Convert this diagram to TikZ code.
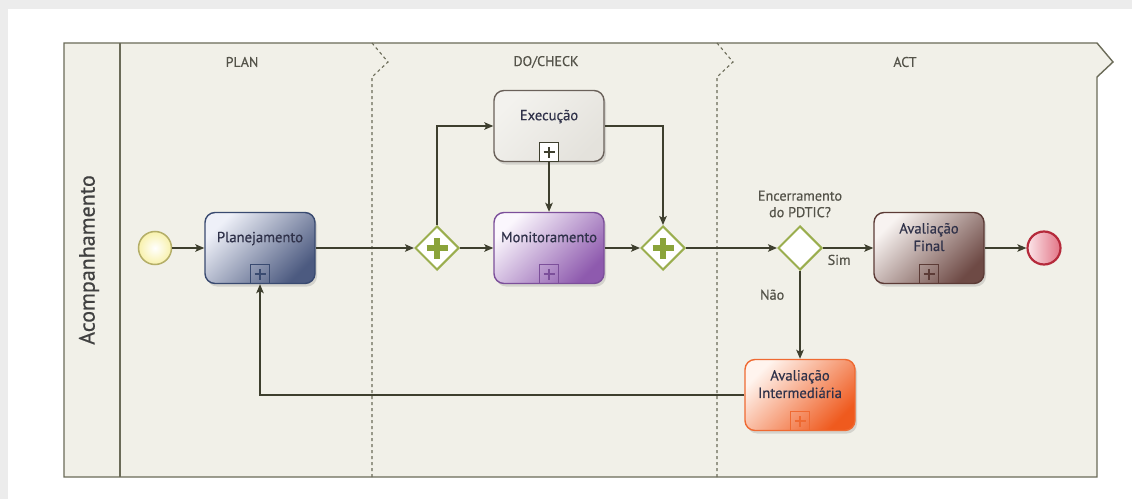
\documentclass[tikz,border=0pt]{standalone}
\usepackage{fontspec}
\setmainfont{PT Sans}[FakeBold=0.5]
\usetikzlibrary{shapes.geometric, arrows.meta, positioning, shadows}

\definecolor{pageGray}{HTML}{ECECEC}
\definecolor{poolFill}{HTML}{F1F0E8}
\definecolor{poolLine}{HTML}{6B6B58}
\definecolor{laneText}{HTML}{55544A}
\definecolor{flowLine}{HTML}{3E3F2E}
\definecolor{taskText}{HTML}{30324A}
\definecolor{gwLine}{HTML}{9AAE4E}
\definecolor{gwPlus}{HTML}{8AA33A}
\definecolor{startLine}{HTML}{B4AE68}
\definecolor{startFill}{HTML}{F8F1AC}
\definecolor{endLine}{HTML}{B52A3B}
\definecolor{endLight}{HTML}{FBE4E8}
\definecolor{endDark}{HTML}{E27485}
\definecolor{planLine}{HTML}{394A70}
\definecolor{planLight}{HTML}{EEF0F8}
\definecolor{planDark}{HTML}{4C5A80}
\definecolor{exeLine}{HTML}{6A615A}
\definecolor{exeLight}{HTML}{F3F2EE}
\definecolor{exeDark}{HTML}{E4E2DC}
\definecolor{monLine}{HTML}{7C4F9A}
\definecolor{monLight}{HTML}{FBF7FD}
\definecolor{monDark}{HTML}{8E5AAE}
\definecolor{finLine}{HTML}{5C3B36}
\definecolor{finLight}{HTML}{F8F3F1}
\definecolor{finDark}{HTML}{6E4A45}
\definecolor{intLine}{HTML}{EF6A32}
\definecolor{intLight}{HTML}{FFF4EE}
\definecolor{intDark}{HTML}{EF5A1E}

\begin{document}
\begin{tikzpicture}[>={Stealth[length=9pt,width=7.5pt,inset=2pt]},x=1pt,y=1pt,semithick]
		\tikzstyle{pool}=[draw=poolLine,line width=1.4pt]
		\tikzstyle{lanesep}=[draw=poolLine,line width=1.1pt,dash pattern=on 3pt off 3pt]
		\tikzstyle{lanehead}=[text=laneText,font=\fontsize{14}{16}\selectfont]
		\tikzstyle{flow}=[->,draw=flowLine,line width=1.5pt]
		\tikzstyle{flowtext}=[text=laneText,font=\fontsize{14.2}{16.5}\selectfont,align=center,inner sep=1pt]
		\tikzstyle{task}=[rectangle,rounded corners=10pt,minimum width=110pt,minimum height=71pt,line width=1.4pt,align=center,text depth=22pt,text=taskText,font=\fontsize{14.6}{17.5}\selectfont,drop shadow={shadow xshift=2pt,shadow yshift=-3pt,opacity=0.25}]
		\tikzstyle{plantask}=[task,draw=planLine,top color=planLight,bottom color=planDark,shading angle=45]
		\tikzstyle{exetask}=[task,draw=exeLine,top color=exeLight,bottom color=exeDark,shading angle=45]
		\tikzstyle{montask}=[task,draw=monLine,top color=monLight,bottom color=monDark,shading angle=45]
		\tikzstyle{fintask}=[task,draw=finLine,top color=finLight,bottom color=finDark,shading angle=45]
		\tikzstyle{inttask}=[task,draw=intLine,top color=intLight,bottom color=intDark,shading angle=45]
		\tikzstyle{marker}=[rectangle,anchor=south,minimum size=19pt,inner sep=0pt,line width=1.2pt,draw,
			path picture={\draw[line width=2.3pt] ([xshift=-5.5pt]path picture bounding box.center) -- ([xshift=5.5pt]path picture bounding box.center)
				([yshift=-5.5pt]path picture bounding box.center) -- ([yshift=5.5pt]path picture bounding box.center);}]
		\tikzstyle{gateway}=[diamond,aspect=1,minimum width=44pt,minimum height=44pt,inner sep=0pt,draw=gwLine,line width=2pt,fill=white]
		\tikzstyle{pargw}=[gateway,
			path picture={\draw[gwPlus,line width=6.5pt] ([xshift=-10.5pt]path picture bounding box.center) -- ([xshift=10.5pt]path picture bounding box.center)
				([yshift=-10.5pt]path picture bounding box.center) -- ([yshift=10.5pt]path picture bounding box.center);}]
		\tikzstyle{startev}=[circle,minimum size=33pt,inner sep=0pt,draw=startLine,line width=1.5pt,inner color=white,outer color=startFill]
		\tikzstyle{endev}=[circle,minimum size=33pt,inner sep=0pt,draw=endLine,line width=2.2pt,left color=endLight,right color=endDark]

		% page and pool
		\useasboundingbox (0,0) rectangle (1132,499);
		\fill[pageGray] (0,0) rectangle (1132,499);
		\fill[white] (8,0) rectangle (1132,490);
		\draw[pool,fill=poolFill] (64,22) -- (64,456) -- (1097,456) -- (1113,437) -- (1097,422) -- (1097,22) -- cycle;
		\draw[pool] (120,22) -- (120,456);
		\draw[lanesep] (372,456) -- (388,437) -- (372,422) -- (372,22);
		\draw[lanesep] (717,456) -- (733,437) -- (717,422) -- (717,22);
		\node[rotate=90,text=black!75,font=\fontsize{22}{26}\selectfont] (pool-name) at (89,239) {Acompanhamento};
		\node[lanehead] (plan-h) at (242,437) {PLAN};
		\node[lanehead] (do-h) at (546,437) {DO/CHECK};
		\node[lanehead] (act-h) at (905,437) {ACT};

		% process
		\node[startev] (start) at (155,251) {};
		\node[plantask] (plan) [right of=start,node distance=105pt] {Planejamento};
		\node[pargw] (g1) [right of=plan,node distance=177pt] {};
		\node[montask] (mon) [right of=g1,node distance=112pt] {Monitoramento};
		\node[exetask] (exe) [above of=mon,node distance=122pt] {Execução};
		\node[pargw] (g2) [right of=mon,node distance=114pt] {};
		\node[gateway] (g3) [right of=g2,node distance=137pt] {};
		\node[flowtext] (g3-q) [above of=g3,node distance=44pt] {Encerramento\\do PDTIC?};
		\node[fintask] (final) [right of=g3,node distance=129pt] {Avaliação\\Final};
		\node[endev] (end) [right of=final,node distance=115pt] {};
		\node[inttask] (inter) [below of=g3,node distance=147pt] {Avaliação\\Intermediária};

		\node[marker,draw=planLine,color=planLine] (plan-m) at (plan.south) {};
		\node[marker,draw=exeLine,color=flowLine,fill=white] (exe-m) at (exe.south) {};
		\node[marker,draw=monLine,color=monLine] (mon-m) at (mon.south) {};
		\node[marker,draw=finLine,color=finLine] (final-m) at (final.south) {};
		\node[marker,draw=intLine,color=intLine] (inter-m) at (inter.south) {};

		\draw[flow] (start) -- (plan);
		\draw[flow] (plan) -- (g1);
		\draw[flow] (g1) -- (mon);
		\draw[flow] (g1) |- (exe);
		\draw[flow] (exe) -- (mon);
		\draw[flow] (exe) -| (g2);
		\draw[flow] (mon) -- (g2);
		\draw[flow] (g2) -- (g3);
		\draw[flow] (g3) -- (final) node[flowtext,pos=0.32,below=5pt] (sim) {Sim};
		\draw[flow] (g3) -- (inter) node[flowtext,pos=0.27,left=14pt] (nao) {Não};
		\draw[flow] (final) -- (end);
		\draw[flow] (inter) -| (plan);
\end{tikzpicture}
\end{document}
